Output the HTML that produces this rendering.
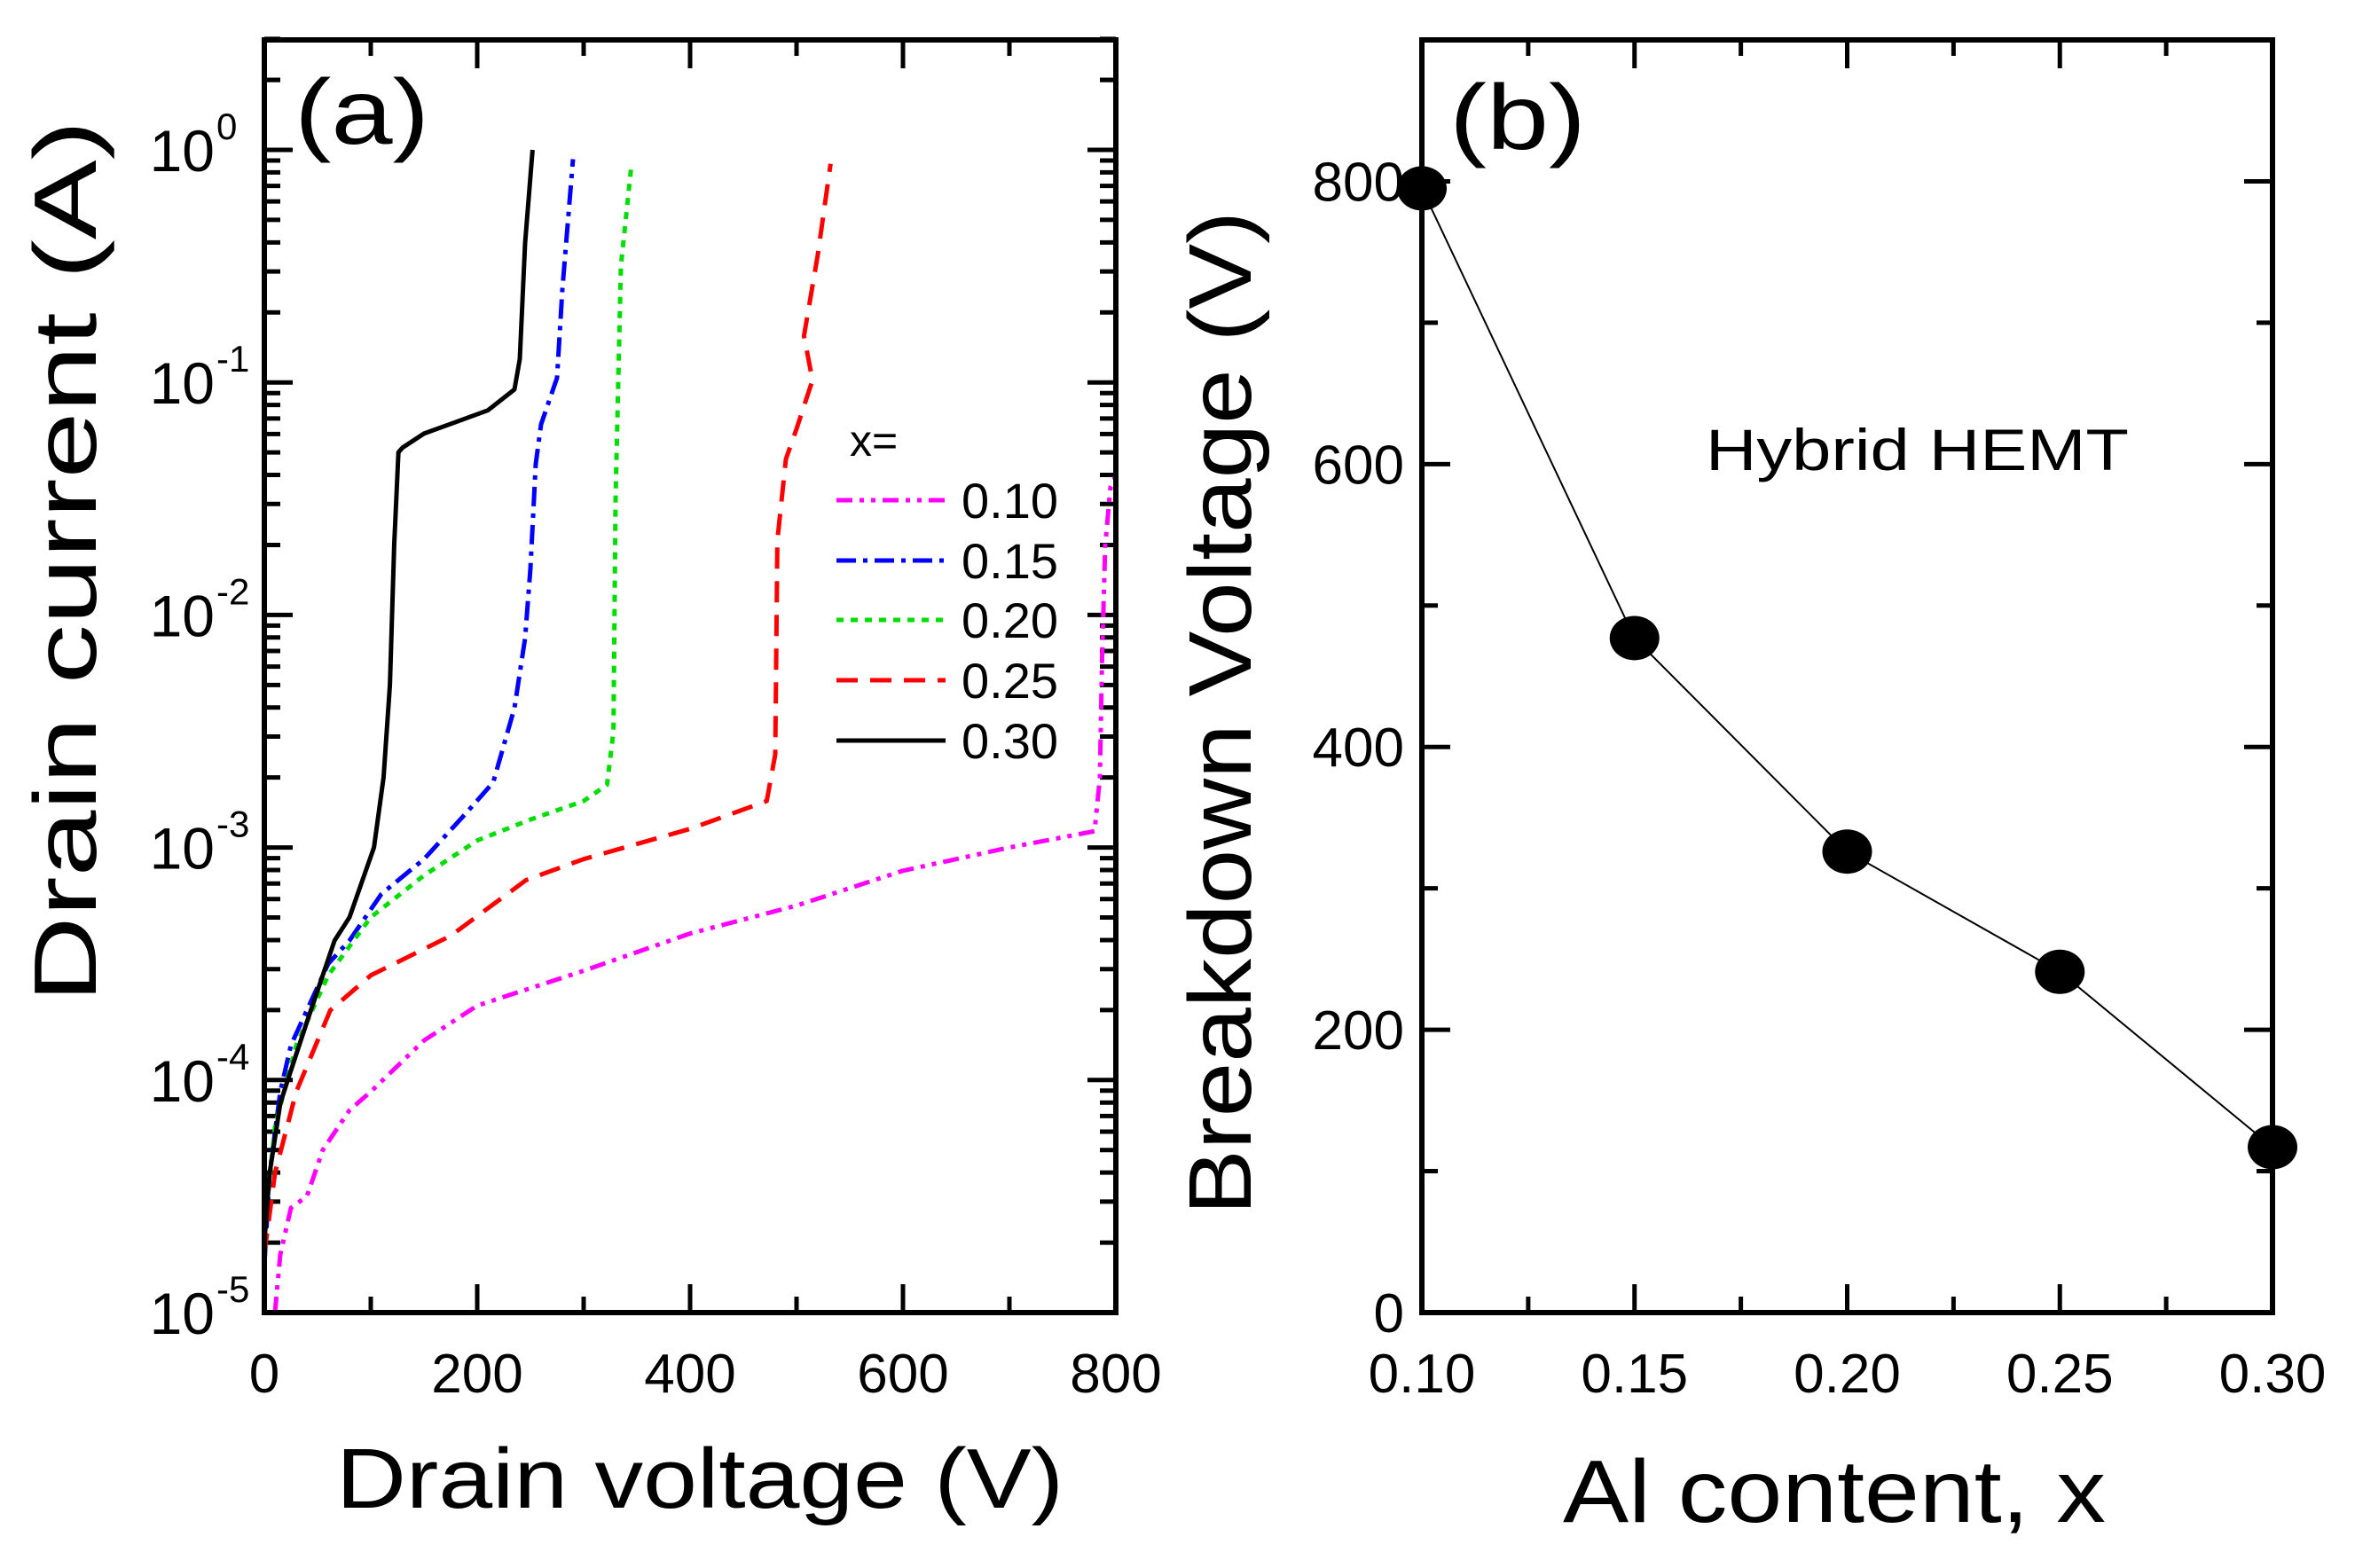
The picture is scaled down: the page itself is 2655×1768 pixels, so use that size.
<!DOCTYPE html>
<html><head><meta charset="utf-8"><style>
html,body{margin:0;padding:0;background:#fff;}
svg{display:block;font-family:"Liberation Sans",sans-serif;}
</style></head><body>
<svg id="fig" width="2655" height="1768" viewBox="0 0 2655 1768" xmlns="http://www.w3.org/2000/svg">
<g id="pa"></g>
<g id="pb"></g>
</svg>
<script>
// Panel (a) data: drain voltage (V) and log10(drain current A)
const seriesLabels = ["0.10","0.15","0.20","0.25","0.30"];
const seriesColors = ["#ff00ff","#0000ff","#00dd00","#ff0000","#000000"];
const seriesDash = ["18,8,5,8,5,8","22,8,5,8","8,8","24,14","none"];
const v010 = [10,15,25,40,55,80,100,150,200,300,400,500,600,700,780,785,787,790,795,800];
const i010 = [-5,-4.75,-4.55,-4.5,-4.3,-4.13,-4.05,-3.83,-3.68,-3.53,-3.37,-3.25,-3.1,-3.0,-2.93,-2.7,-2.2,-1.7,-1.45,-1.4];
const v015 = [0,5,15,25,40,60,80,110,150,190,215,235,245,250,255,260,275,280,290];
const i015 = [-4.8,-4.4,-4.05,-3.85,-3.7,-3.5,-3.4,-3.2,-3.05,-2.85,-2.72,-2.4,-2.1,-1.8,-1.35,-1.18,-0.98,-0.6,-0.04];
const v020 = [0,10,30,60,100,150,200,250,300,322,328,330,335,345];
const i020 = [-4.65,-4.2,-3.85,-3.55,-3.3,-3.12,-2.97,-2.88,-2.8,-2.73,-2.5,-1.5,-0.5,-0.06];
const v025 = [0,10,30,62,100,175,246,300,400,472,480,482,490,500,515,507,520,532];
const i025 = [-4.75,-4.4,-4.05,-3.7,-3.55,-3.38,-3.14,-3.05,-2.92,-2.8,-2.6,-1.68,-1.33,-1.2,-0.99,-0.8,-0.45,-0.06];
const v030 = [0,5,15,22,40,66,80,103,112,118,122,126,130,150,180,210,235,240,245,252];
const i030 = [-4.7,-4.4,-4.1,-4.0,-3.75,-3.4,-3.3,-3.0,-2.7,-2.3,-1.7,-1.3,-1.28,-1.22,-1.17,-1.12,-1.03,-0.9,-0.4,0];
const xTicksA = [0,200,400,600,800];
const yDecadesA = [-5,-4,-3,-2,-1,0];
// Panel (b) data
const alContent = [0.10,0.15,0.20,0.25,0.30];
const breakdownV = [795,477,326,241,117];
const xTicksB = ["0.10","0.15","0.20","0.25","0.30"];
const yTicksB = [0,200,400,600,800];

const NS="http://www.w3.org/2000/svg";
function mk(parent,tag,attrs,text){const e=document.createElementNS(NS,tag);for(const k in attrs)e.setAttribute(k,attrs[k]);if(text!==undefined)e.textContent=text;parent.appendChild(e);return e;}

// ---- Panel A ----
const pa=document.getElementById('pa');
const AL=298,AR=1258,AT=45,AB=1480;
const ax=v=>AL+(v-0)/800*(AR-AL);
const y0=169,dec=(AB-169)/5;
const ay=l=>y0-l*dec;
for(let v=0;v<=800;v+=100){
  const len=v%200===0?32:18;
  let t=mk(pa,'line',{x1:ax(v),x2:ax(v),y1:AB,y2:AB-len,stroke:'#000','stroke-width':5});
  
  t=mk(pa,'line',{x1:ax(v),x2:ax(v),y1:AT,y2:AT+len,stroke:'#000','stroke-width':5});
  
}
for(let d=-5;d<=0;d++){
  for(let m=1;m<=9;m++){
    const l=d+Math.log10(m);
    const y=ay(l);
    if(y<AT||y>AB)continue;
    const len=m===1?32:18;
    let t=mk(pa,'line',{x1:AL,x2:AL+len,y1:y,y2:y,stroke:'#000','stroke-width':5});
    
    t=mk(pa,'line',{x1:AR,x2:AR-len,y1:y,y2:y,stroke:'#000','stroke-width':5});
    
  }
}
for(const m of [2,3]){const y=ay(Math.log10(m));
  let t=mk(pa,'line',{x1:AL,x2:AL+18,y1:y,y2:y,stroke:'#000','stroke-width':5});
  
  t=mk(pa,'line',{x1:AR,x2:AR-18,y1:y,y2:y,stroke:'#000','stroke-width':5});
  }
const vs=[v010,v015,v020,v025,v030], is=[i010,i015,i020,i025,i030];
const clipA=mk(pa,'clipPath',{id:'clipA'});mk(clipA,'rect',{x:AL,y:AT,width:AR-AL,height:AB-AT});
for(let s=0;s<5;s++){
  const pts=vs[s].map((v,i)=>ax(v).toFixed(1)+','+ay(is[s][i]).toFixed(1)).join(' ');
  const p=mk(pa,'polyline',{points:pts,fill:'none',stroke:seriesColors[s],'stroke-width':5,'stroke-dasharray':seriesDash[s],'clip-path':'url(#clipA)','stroke-linejoin':'round'});
  
  
}
let fr=mk(pa,'rect',{x:AL,y:AT,width:AR-AL,height:AB-AT,fill:'none',stroke:'#000','stroke-width':6});

xTicksA.forEach(v=>{const t=mk(pa,'text',{x:ax(v),y:1570,'font-size':62,'text-anchor':'middle'},String(v));
  });
yDecadesA.forEach(d=>{const t=mk(pa,'text',{x:242,y:ay(d)+24,'font-size':66,'text-anchor':'end'},'10');
  
  const s=mk(pa,'text',{x:244,y:ay(d)-12,'font-size':42,'text-anchor':'start'},String(d));
  });
let t=mk(pa,'text',{x:789,y:1700,'font-size':96,'text-anchor':'middle',textLength:820,lengthAdjust:'spacingAndGlyphs'},'Drain voltage (V)');

t=mk(pa,'text',{x:0,y:0,'font-size':100,'text-anchor':'middle',transform:'translate(108,633) rotate(-90)',textLength:995,lengthAdjust:'spacingAndGlyphs'},'Drain current (A)');

t=mk(pa,'text',{x:332,y:162,'font-size':104,textLength:152,lengthAdjust:'spacingAndGlyphs'},'(a)');

t=mk(pa,'text',{x:958,y:514,'font-size':50},'x=');

const legY=[564,632,699,767,835];
for(let s=0;s<5;s++){
  const g=mk(pa,'g',{});
  
  mk(g,'line',{x1:943,x2:1066,y1:legY[s],y2:legY[s],stroke:seriesColors[s],'stroke-width':5,'stroke-dasharray':seriesDash[s]});
  mk(g,'text',{x:1084,y:legY[s]+20,'font-size':56},seriesLabels[s]);
}

// ---- Panel B ----
const pb=document.getElementById('pb');
const BL=1603,BR=2562,BT=45,BB=1480;
const bx=x=>BL+(x-0.10)/0.20*(BR-BL);
const by=v=>BB-v/900*(BB-BT);
for(let k=0;k<=8;k++){const x=0.10+k*0.025;const len=k%2===0?32:18;
  let tk=mk(pb,'line',{x1:bx(x),x2:bx(x),y1:BB,y2:BB-len,stroke:'#000','stroke-width':5});
  
  tk=mk(pb,'line',{x1:bx(x),x2:bx(x),y1:BT,y2:BT+len,stroke:'#000','stroke-width':5});
  }
for(let v=0;v<=900;v+=100){const len=v%200===0?32:18;
  let tk=mk(pb,'line',{x1:BL,x2:BL+len,y1:by(v),y2:by(v),stroke:'#000','stroke-width':5});
  
  tk=mk(pb,'line',{x1:BR,x2:BR-len,y1:by(v),y2:by(v),stroke:'#000','stroke-width':5});
  }
const lp=mk(pb,'polyline',{points:alContent.map((x,i)=>bx(x)+','+by(breakdownV[i])).join(' '),fill:'none',stroke:'#000','stroke-width':2});

alContent.forEach((x,i)=>{const c=mk(pb,'ellipse',{cx:bx(x),cy:by(breakdownV[i]),rx:28,ry:25,fill:'#000'});
  });
fr=mk(pb,'rect',{x:BL,y:BT,width:BR-BL,height:BB-BT,fill:'none',stroke:'#000','stroke-width':6});

xTicksB.forEach(s=>{const tt=mk(pb,'text',{x:bx(parseFloat(s)),y:1570,'font-size':62,'text-anchor':'middle'},s);
  });
yTicksB.forEach(v=>{const tt=mk(pb,'text',{x:1583,y:by(v)+22,'font-size':62,'text-anchor':'end'},String(v));
  });
t=mk(pb,'text',{x:2068,y:1716,'font-size':100,'text-anchor':'middle',textLength:612,lengthAdjust:'spacingAndGlyphs'},'Al content, x');

t=mk(pb,'text',{x:0,y:0,'font-size':100,'text-anchor':'middle',transform:'translate(1410,804) rotate(-90)',textLength:1132,lengthAdjust:'spacingAndGlyphs'},'Breakdown Voltage (V)');

t=mk(pb,'text',{x:1634,y:168,'font-size':104,textLength:154,lengthAdjust:'spacingAndGlyphs'},'(b)');

t=mk(pb,'text',{x:1923,y:530,'font-size':66,textLength:477,lengthAdjust:'spacingAndGlyphs'},'Hybrid HEMT');

</script>
</body></html>
